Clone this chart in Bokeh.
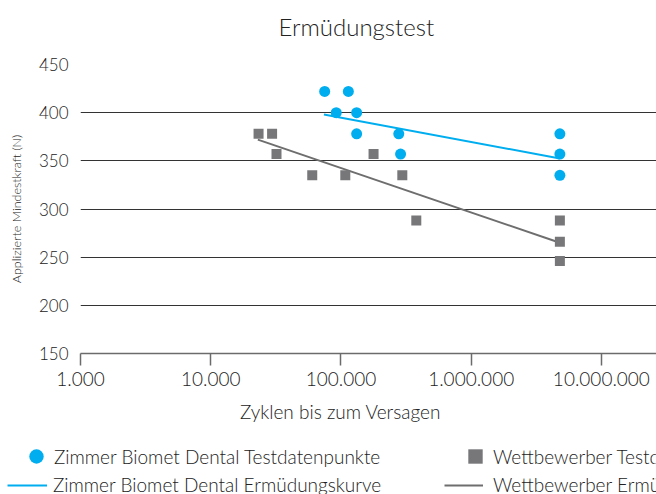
from bokeh.plotting import figure
from bokeh.models import FixedTicker, Legend, LegendItem, Range1d, CustomJSTickFormatter, Label
from bokeh.embed import file_html
from bokeh.resources import INLINE
from bokeh.core.properties import value

FONT = "Lato Light"
TXT = "#222222"
BLUE = "#00AEEF"
GRAY = "#77777A"
GRAY_LINE = "#6E6E6E"

title_text = "Ermüdungstest"
x_label = "Zyklen bis zum Versagen"
y_label = "Applizierte Mindestkraft (N)"

x_ticks = [1000, 10000, 100000, 1000000, 10000000]
x_tick_labels = ["1.000", "10.000", "100.000", "1.000.000", "10.000.000"]
y_ticks = [150, 200, 250, 300, 350, 400, 450]

# Zimmer Biomet Dental test data points
zb_cycles = [75000, 114000, 92000, 132000, 132000, 278000, 287000, 4800000, 4800000, 4800000]
zb_force = [422, 422, 400, 400, 378, 378, 357, 378, 357, 335]

# Competitor test data points
wb_cycles = [23300, 29600, 32000, 60200, 108000, 178000, 296000, 379000, 4800000, 4800000, 4800000]
wb_force = [378, 378, 357, 335, 335, 357, 335, 288, 288, 266, 246]

# Fatigue curves
zb_curve_cycles = [74000, 4800000]
zb_curve_force = [398, 352.5]
wb_curve_cycles = [23000, 4800000]
wb_curve_force = [372, 265]

legend_labels = [
    "Zimmer Biomet Dental Testdatenpunkte",
    "Zimmer Biomet Dental Ermüdungskurve",
    "Wettbewerber Testdatenpunkte",
    "Wettbewerber Ermüdungskurve",
]


def blank_strip(height):
    f = figure(width=656, height=height, x_range=Range1d(0, 1), y_range=Range1d(0, 1),
               x_axis_location=None, y_axis_location=None, output_backend="svg",
               toolbar_location=None, min_border=0)
    f.outline_line_color = None
    f.grid.visible = False
    return f


# ---- title strip
tf = blank_strip(40)
tf.add_layout(Label(x=278, y=14, x_units="screen", y_units="screen", text=title_text,
                    text_align="left", text_baseline="alphabetic",
                    text_font=FONT, text_font_size="24px", text_color=TXT))

# ---- main chart
p = figure(width=656, height=357, x_axis_type="log",
           x_range=Range1d(1000, 2.65e7), y_range=Range1d(150, 450),
           output_backend="svg", toolbar_location=None,
           min_border_left=80, min_border_right=0, min_border_top=24, min_border_bottom=44)
p.outline_line_color = None

p.xgrid.visible = False
p.ygrid.ticker = FixedTicker(ticks=y_ticks[1:])
p.ygrid.grid_line_color = "#333333"
p.ygrid.grid_line_width = 1

xa = p.xaxis[0]
xa.ticker = FixedTicker(ticks=x_ticks, minor_ticks=[])
xa.formatter = CustomJSTickFormatter(args=dict(tvals=x_ticks, tlabels=x_tick_labels),
                                     code="const i = tvals.indexOf(tick); return i >= 0 ? tlabels[i] : '';")
xa.axis_line_color = "#6B6B6B"
xa.axis_line_width = 1.5
xa.major_tick_line_color = "#6B6B6B"
xa.major_tick_line_width = 1.5
xa.major_tick_out = 12
xa.major_tick_in = 0
xa.minor_tick_line_color = None
xa.major_label_standoff = 6
xa.major_label_text_font = FONT
xa.major_label_text_font_size = "19px"
xa.major_label_text_color = TXT

ya = p.yaxis[0]
ya.ticker = FixedTicker(ticks=y_ticks, minor_ticks=[])
ya.axis_line_color = None
ya.major_tick_line_color = None
ya.minor_tick_line_color = None
ya.major_tick_out = 0
ya.major_tick_in = 0
ya.major_label_standoff = 12
ya.major_label_text_font = FONT
ya.major_label_text_font_size = "17px"
ya.major_label_text_color = TXT
ya.axis_label = y_label
ya.axis_label_text_font = FONT
ya.axis_label_text_font_size = "12.5px"
ya.axis_label_text_font_style = "normal"
ya.axis_label_text_color = TXT
ya.axis_label_standoff = 12

p.line(zb_curve_cycles, zb_curve_force, line_color=BLUE, line_width=2)
p.line(wb_curve_cycles, wb_curve_force, line_color=GRAY_LINE, line_width=2)
p.scatter(zb_cycles, zb_force, marker="circle", size=11, fill_color=BLUE, line_color=None)
p.scatter(wb_cycles, wb_force, marker="square", size=10, fill_color=GRAY, line_color=None)

# ---- x-axis title + legend strip (legend keys need a renderer with data; kept off-range)
lf = blank_strip(97)
lf.add_layout(Label(x=340, y=83, x_units="screen", y_units="screen", text=x_label,
                    text_align="center", text_baseline="alphabetic",
                    text_font=FONT, text_font_size="19px", text_color=TXT))
k_zb_pts = lf.scatter([-5], [-5], marker="circle", fill_color=BLUE, line_color=None)
k_zb_line = lf.line([-5, -4], [-5, -5], line_color=BLUE, line_width=2)
k_wb_pts = lf.scatter([-5], [-5], marker="square", fill_color=GRAY, line_color=None)
k_wb_line = lf.line([-5, -4], [-5, -5], line_color=GRAY_LINE, line_width=2)


def add_legend(label, rend, loc, gw, gh, standoff):
    lg = Legend(items=[LegendItem(label=value(label), renderers=[rend])], location=loc,
                glyph_width=gw, glyph_height=gh, label_height=gh, label_standoff=standoff,
                padding=0, margin=0, spacing=0, border_line_color=None, background_fill_alpha=0,
                label_text_font=FONT, label_text_font_size="19px", label_text_color=TXT)
    lf.add_layout(lg)


add_legend(legend_labels[0], k_zb_pts, (18, 18), 36, 40, 0)
add_legend(legend_labels[1], k_zb_line, (7, -2), 40, 22, 6)
add_legend(legend_labels[2], k_wb_pts, (457, 19), 36, 38, 0)
add_legend(legend_labels[3], k_wb_line, (444, -2), 39, 22, 10)

open("out.html", "w").write(file_html([tf, p, lf], INLINE))
